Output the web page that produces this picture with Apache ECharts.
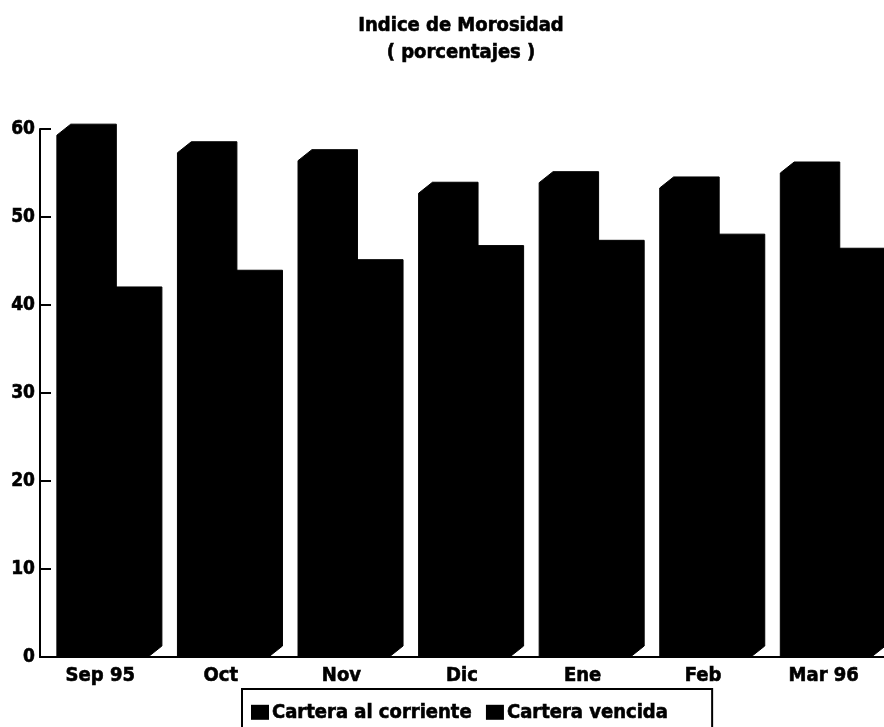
<!DOCTYPE html>
<html>
<head>
<meta charset="utf-8">
<script src="https://cdn.jsdelivr.net/npm/echarts@6/dist/echarts.min.js"></script>
<style>
  html, body { margin: 0; padding: 0; background: #fff; }
  #chart { width: 884px; height: 727px; }
</style>
</head>
<body>
<div id="chart"></div>
<script>
// Índice de morosidad, porcentajes por mes
const meses = ['Sep 95', 'Oct', 'Nov', 'Dic', 'Ene', 'Feb', 'Mar 96'];
const carteraCorriente = [59.3, 57.3, 56.4, 52.7, 53.9, 53.3, 55.0];
const carteraVencida = [40.8, 42.7, 43.9, 45.5, 46.1, 46.8, 45.2];
const yTicks = [0, 10, 20, 30, 40, 50, 60];

const FONT = "'DejaVu Sans Condensed', 'Liberation Sans Narrow', 'DejaVu Sans', sans-serif";
const INK = '#000';
const HEAVY = { textBorderColor: INK, textBorderWidth: 0.6 };

// Each month holds two pseudo-3D bars side by side; slot 0 is the front-left bar.
// Geometry is expressed as fractions of the category band width.
const OFFSET = 0.14;   // gap from band start to first bar
const BAR_W = 0.378;   // front face width
const DEPTH_X = 0.115; // horizontal depth of top/side faces
const DEPTH_Y = 11;    // vertical depth in pixels

function makeRender(slot) {
  return function (params, api) {
    const i = api.value(0);
    const v = api.value(1);
    const band = api.size([1, 0])[0];
    const c = api.coord([i, 0]);
    const top = api.coord([i, v])[1];
    const y0 = c[1];
    const w = band * BAR_W;
    const d = band * DEPTH_X;
    const x = c[0] - band / 2 + band * OFFSET + slot * w;
    const pts = [
      [x, y0],
      [x, top],
      [x + d, top - DEPTH_Y],
      [x + w + d, top - DEPTH_Y],
      [x + w + d, y0 - DEPTH_Y],
      [x + w, y0]
    ];
    return {
      type: 'polygon',
      shape: { points: pts },
      style: { fill: INK, stroke: INK, lineWidth: 1 }
    };
  };
}

const chart = echarts.init(document.getElementById('chart'), null, { renderer: 'canvas' });

chart.setOption({
  animation: false,
  backgroundColor: '#fff',
  title: {
    text: 'Indice de Morosidad\n( porcentajes )',
    left: 456,
    top: 7,
    textAlign: 'center',
    textStyle: Object.assign({
      fontFamily: FONT,
      fontWeight: 'bold',
      fontSize: 20,
      lineHeight: 27,
      color: INK
    }, HEAVY)
  },
  legend: {
    left: 242,
    top: 689,
    orient: 'horizontal',
    icon: 'rect',
    itemWidth: 18,
    itemHeight: 15,
    itemGap: 14,
    padding: [13, 44, 20, 9],
    borderColor: INK,
    borderWidth: 2,
    borderRadius: 0,
    textStyle: Object.assign({
      fontFamily: FONT,
      fontWeight: 'bold',
      fontSize: 20,
      color: INK,
      padding: [0, 0, 0, -2]
    }, HEAVY),
    data: ['Cartera al corriente', 'Cartera vencida']
  },
  grid: {
    left: 40,
    right: -8,
    top: 129,
    bottom: 70,
    containLabel: false
  },
  xAxis: {
    type: 'category',
    data: meses,
    boundaryGap: true,
    axisLine: { show: true, lineStyle: { color: INK, width: 2 } },
    axisTick: { show: false },
    axisLabel: Object.assign({
      color: INK,
      fontFamily: FONT,
      fontWeight: 'bold',
      fontSize: 20,
      margin: 9,
      interval: 0
    }, HEAVY),
    splitLine: { show: false }
  },
  yAxis: {
    type: 'value',
    min: yTicks[0],
    max: yTicks[yTicks.length - 1],
    interval: 10,
    axisLine: { show: true, lineStyle: { color: INK, width: 2 } },
    axisTick: { show: true, inside: true, length: 11, lineStyle: { color: INK, width: 2 } },
    axisLabel: Object.assign({
      color: INK,
      fontFamily: FONT,
      fontWeight: 'bold',
      fontSize: 19,
      margin: 5
    }, HEAVY),
    splitLine: { show: false }
  },
  series: [
    {
      name: 'Cartera al corriente',
      type: 'custom',
      renderItem: makeRender(0),
      itemStyle: { color: INK },
      encode: { x: 0, y: 1 },
      data: carteraCorriente.map((v, i) => [i, v]),
      z: 2
    },
    {
      name: 'Cartera vencida',
      type: 'custom',
      renderItem: makeRender(1),
      itemStyle: { color: INK },
      encode: { x: 0, y: 1 },
      data: carteraVencida.map((v, i) => [i, v]),
      z: 3
    }
  ]
});
</script>
</body>
</html>
